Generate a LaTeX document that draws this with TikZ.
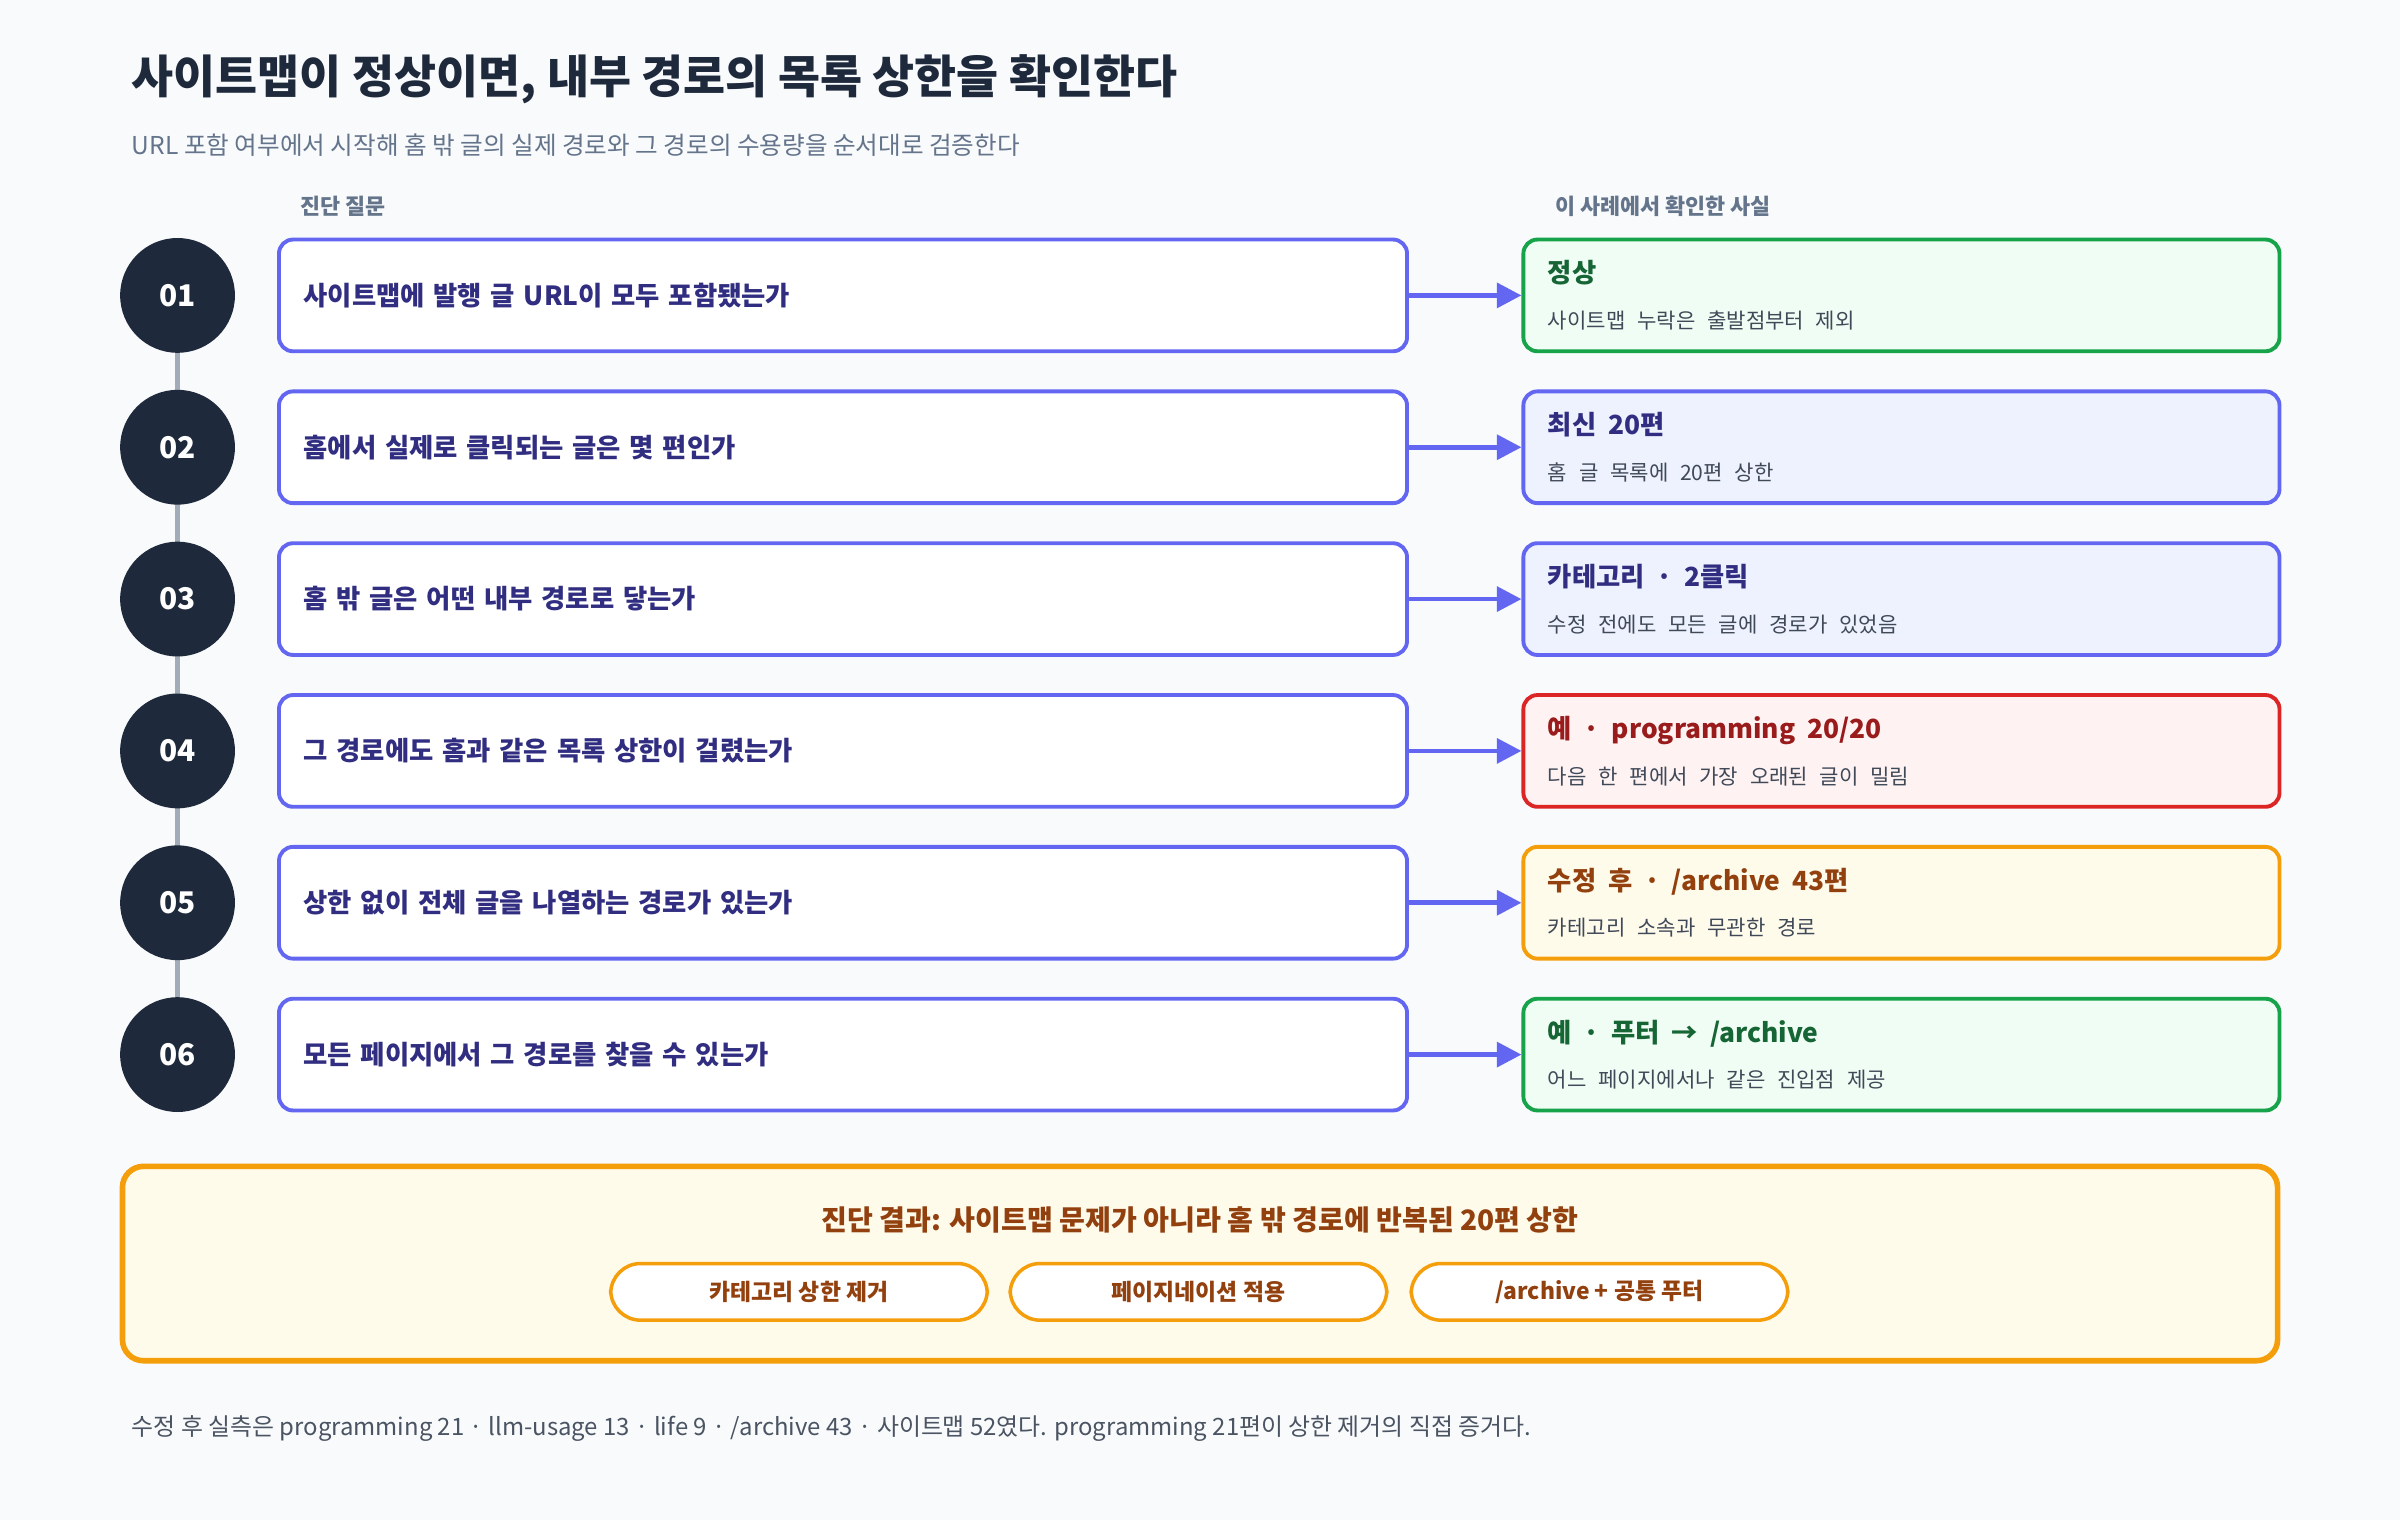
\documentclass[tikz,border=0pt]{standalone}
\usepackage{fontspec}
\setmainfont{Noto Sans CJK KR}
\usetikzlibrary{arrows.meta, positioning}
\definecolor{ink}{HTML}{1E293B}
\definecolor{muted}{HTML}{64748B}
\definecolor{indigo}{HTML}{6366F1}
\definecolor{indigotxt}{HTML}{312E81}
\definecolor{indigofill}{HTML}{EEF2FF}
\definecolor{grn}{HTML}{16A34A}
\definecolor{grnfill}{HTML}{F0FDF4}
\definecolor{grntxt}{HTML}{166534}
\definecolor{rd}{HTML}{DC2626}
\definecolor{rdfill}{HTML}{FEF2F2}
\definecolor{rdtxt}{HTML}{991B1B}
\definecolor{amb}{HTML}{F59E0B}
\definecolor{ambfill}{HTML}{FFFBEB}
\definecolor{ambtxt}{HTML}{92400E}
\definecolor{bg}{HTML}{F8FAFC}
\tikzset{
  stepdot/.style={circle, fill=ink, minimum size=75*0.015306cm, text=white, font=\bfseries\fontsize{8.5}{10}\selectfont},
  question/.style={rectangle, rounded corners=4pt, draw=indigo, line width=1.1pt, fill=white, minimum width=737*0.015306cm, minimum height=73*0.015306cm, text=indigotxt, font=\bfseries\fontsize{7.5}{9}\selectfont, align=left, text width=737*0.015306cm-14pt},
  fact/.style={rectangle, rounded corners=4pt, line width=1.1pt, minimum width=494*0.015306cm, minimum height=73*0.015306cm},
  edge/.style={line width=1.3pt, draw=indigo, -{Triangle[length=7pt,width=7pt]}},
  pill/.style={rectangle, rounded corners=8.5pt, draw=amb, line width=1pt, fill=white, minimum width=246*0.015306cm, minimum height=37*0.015306cm, text=ambtxt, font=\bfseries\fontsize{6.5}{8}\selectfont},
}
\newcommand{\facttext}[3]{{\color{#1}\bfseries\fontsize{7.5}{9}\selectfont #2}\\[1pt]{\color{ink!85}\fontsize{6}{7}\selectfont #3}}
\begin{document}
\begin{tikzpicture}[x=0.015306cm, y=-0.015306cm]
\fill[bg] (0,0) rectangle (1568,993);
\useasboundingbox (0,0) rectangle (1568,993);

% heading
\node[anchor=west, text=ink, font=\bfseries\fontsize{13}{15}\selectfont] (title) at (78,52) {사이트맵이 정상이면, 내부 경로의 목록 상한을 확인한다};
\node[anchor=west, text=muted, font=\fontsize{7}{8}\selectfont] (subtitle) at (78,95) {URL 포함 여부에서 시작해 홈 밖 글의 실제 경로와 그 경로의 수용량을 순서대로 검증한다};
\node[anchor=west, text=muted, font=\bfseries\fontsize{6.2}{7}\selectfont] (hq) at (188,135) {진단 질문};
\node[anchor=west, text=muted, font=\bfseries\fontsize{6.2}{7}\selectfont] (hf) at (1008,135) {이 사례에서 확인한 사실};

% timeline
\draw[muted!60, line width=1.2pt] (116,193) -- (116,689);

% rows
\foreach \i/\q/\bc/\fc/\tc/\ft/\fs in {
  1/{사이트맵에 발행 글 URL이 모두 포함됐는가}/grn/grnfill/grntxt/{정상}/{사이트맵 누락은 출발점부터 제외},
  2/{홈에서 실제로 클릭되는 글은 몇 편인가}/indigo/indigofill/indigotxt/{최신 20편}/{홈 글 목록에 20편 상한},
  3/{홈 밖 글은 어떤 내부 경로로 닿는가}/indigo/indigofill/indigotxt/{카테고리 · 2클릭}/{수정 전에도 모든 글에 경로가 있었음},
  4/{그 경로에도 홈과 같은 목록 상한이 걸렸는가}/rd/rdfill/rdtxt/{예 · programming 20/20}/{다음 한 편에서 가장 오래된 글이 밀림},
  5/{상한 없이 전체 글을 나열하는 경로가 있는가}/amb/ambfill/ambtxt/{수정 후 · /archive 43편}/{카테고리 소속과 무관한 경로},
  6/{모든 페이지에서 그 경로를 찾을 수 있는가}/grn/grnfill/grntxt/{예 · 푸터 → /archive}/{어느 페이지에서나 같은 진입점 제공}}{
  \pgfmathsetmacro{\yy}{193+99.2*(\i-1)}
  \node[stepdot] (s\i) at (116,\yy) {0\i};
  \node[question, anchor=west] (q\i) at (181,\yy) {\q};
  \node[fact, anchor=west, draw=\bc, fill=\fc, align=left, text width=494*0.015306cm-14pt] (f\i) at (994,\yy) {\facttext{\tc}{\ft}{\fs}};
  \draw[edge] (q\i) -- (f\i);
}

% result
\node[rectangle, rounded corners=6pt, draw=amb, line width=1.6pt, fill=ambfill, minimum width=1408*0.015306cm, minimum height=127*0.015306cm] (result) at (784,825.5) {};
\node[text=ambtxt, font=\bfseries\fontsize{8}{10}\selectfont] (verdict) at (784,797) {진단 결과: 사이트맵 문제가 아니라 홈 밖 경로에 반복된 20편 상한};
\node[pill] (p1) at (522,844) {카테고리 상한 제거};
\node[pill] (p2) at (783,844) {페이지네이션 적용};
\node[pill] (p3) at (1045,844) {/archive + 공통 푸터};

\node[anchor=west, text=ink!80, font=\fontsize{6.8}{8}\selectfont] (note) at (78,933) {수정 후 실측은 programming 21 · llm-usage 13 · life 9 · /archive 43 · 사이트맵 52였다. programming 21편이 상한 제거의 직접 증거다.};
\end{tikzpicture}
\end{document}
